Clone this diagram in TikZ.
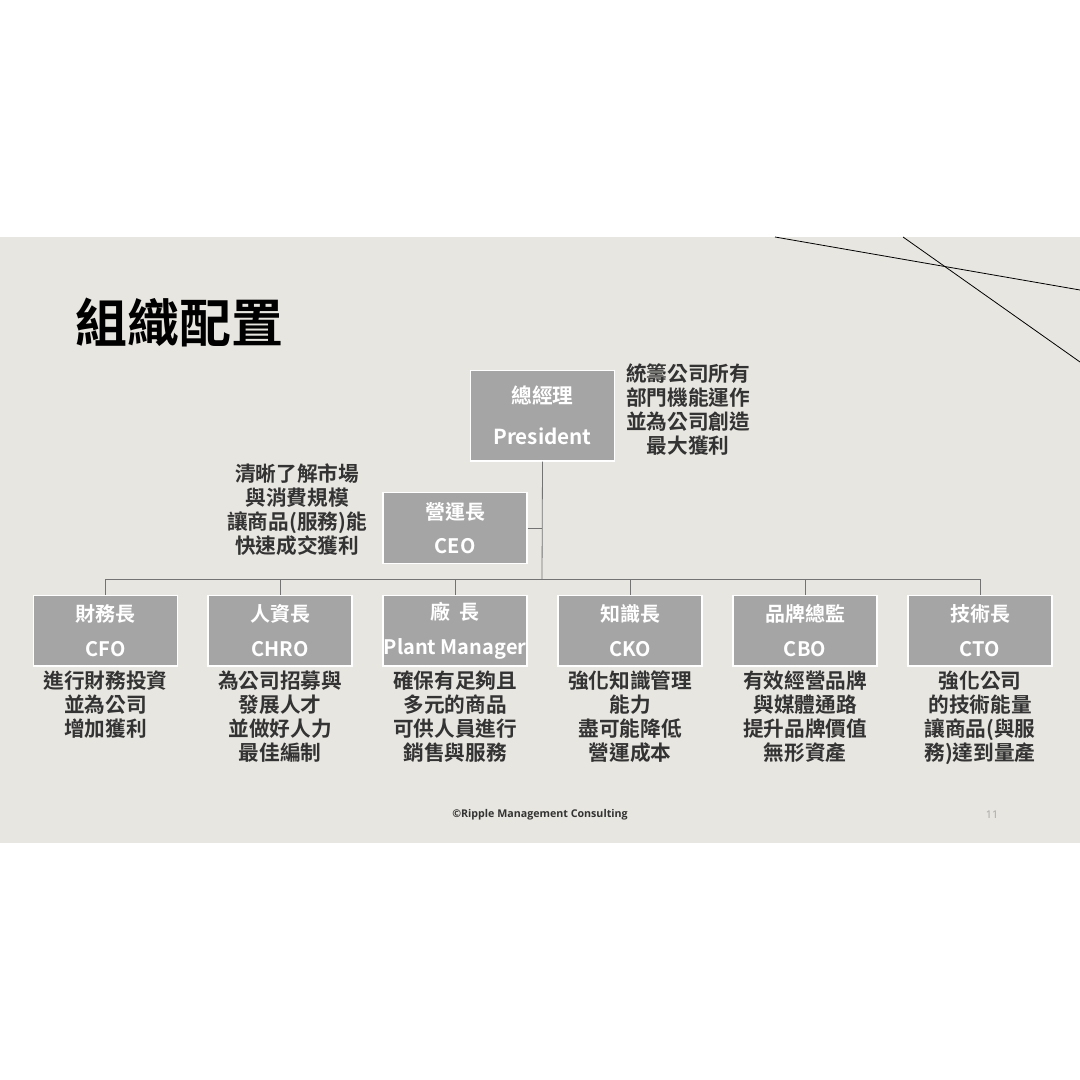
\documentclass[tikz,border=0pt]{standalone}
\usepackage{fontspec}
\setmainfont{Noto Sans CJK TC}
\newfontfamily\cjkb{Noto Sans CJK TC Bold}
\newfontfamily\latb{Open Sans}[BoldFont={Open Sans Bold}]
\definecolor{slidebg}{RGB}{232,230,224}
\definecolor{boxgray}{RGB}{165,165,165}
\definecolor{txt}{RGB}{51,51,51}
\tikzset{every picture/.style={line width=0.75pt}}
\tikzset{
  post/.style={draw=white,line width=1pt,fill=boxgray,text=white,font=\cjkb\fontsize{15}{26}\selectfont,
    minimum width=108pt,minimum height=53pt,align=center,inner sep=0pt},
  bigpost/.style={post,minimum height=68pt,font=\cjkb\fontsize{15.5}{31}\selectfont},
  duty/.style={text=txt,font=\cjkb\fontsize{15.5}{18}\selectfont,align=center,anchor=north,inner sep=0pt},
  wire/.style={draw=gray!90!black,line width=0.6pt}
}
\begin{document}
\begin{tikzpicture}[x=0.75pt,y=0.75pt,yscale=-1,xscale=1]
\useasboundingbox (0,0) rectangle (1080,1080);
\fill[white] (0,0) rectangle (1080,1080);
\fill[slidebg] (0,237) rectangle (1080,843);
\draw[line width=0.6pt] (775,237) -- (1080,290);
\draw[line width=0.6pt] (903,237) -- (1080,362);

\node[anchor=west,font=\cjkb\fontsize{39}{39}\selectfont] (title) at (71,323) {組織配置};

% connectors
\coordinate (bus) at (542,579);
\node[bigpost] (pres) at (542.5,415.5) {總經理\\President};
\node[post] (ceo) at (455,528) {營運長\\CEO};
\draw[wire] (pres.south) -- (bus);
\draw[wire] (ceo.east) -- (ceo.east -| bus);

\node[post] (cfo) at (105.5,630.5) {財務長\\CFO};
\node[post] (chro) at (280,630.5) {人資長\\CHRO};
\node[post] (plant) at (455,630.5) {廠\ \ 長\\Plant Manager};
\node[post] (cko) at (630,630.5) {知識長\\CKO};
\node[post] (cbo) at (805,630.5) {品牌總監\\CBO};
\node[post] (cto) at (980,630.5) {技術長\\CTO};
\draw[wire] (cfo.north |- bus) -- (cto.north |- bus);
\foreach \n in {cfo,chro,plant,cko,cbo,cto}
  \draw[wire] (\n.north |- bus) -- (\n.north);

% descriptions
\node[duty] (dpres) at (688,363) {統籌公司所有\\部門機能運作\\並為公司創造\\最大獲利};
\node[duty] (dceo) at (297,463) {清晰了解市場\\與消費規模\\讓商品(服務)能\\快速成交獲利};
\node[duty] (dcfo) at (cfo.south) [yshift=-3pt] {進行財務投資\\並為公司\\增加獲利};
\node[duty] (dchro) at (chro.south) [yshift=-3pt] {為公司招募與\\發展人才\\並做好人力\\最佳編制};
\node[duty] (dplant) at (plant.south) [yshift=-3pt] {確保有足夠且\\多元的商品\\可供人員進行\\銷售與服務};
\node[duty] (dcko) at (cko.south) [yshift=-3pt] {強化知識管理\\能力\\盡可能降低\\營運成本};
\node[duty] (dcbo) at (cbo.south) [yshift=-3pt] {有效經營品牌\\與媒體通路\\提升品牌價值\\無形資產};
\node[duty] (dcto) at (cto.south) [yshift=-3pt] {強化公司\\的技術能量\\讓商品(與服\\務)達到量產};

% footer
\node[font=\latb\bfseries\fontsize{8}{8}\selectfont,text=txt] (foot) at (540,815) {©Ripple Management Consulting};
\node[font=\latb\fontsize{8}{8}\selectfont,text=gray!70] (page) at (992,815) {11};
\end{tikzpicture}
\end{document}
